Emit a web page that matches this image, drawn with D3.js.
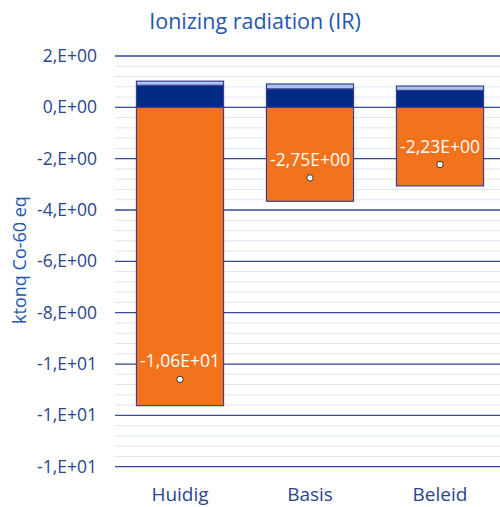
<!DOCTYPE html>
<html>
<head>
<meta charset="utf-8">
<script src="https://cdn.jsdelivr.net/npm/d3@7"></script>
<style>
  body { margin: 0; background: #fff; }
  svg { display: block; font-family: "Open Sans", sans-serif; }
</style>
</head>
<body>
<svg width="500" height="507"></svg>
<script>
const categories = ["Huidig", "Basis", "Beleid"];
const negative = [-11.62, -3.66, -3.06];
const posMain = [0.86, 0.72, 0.66];
const posTop = [0.16, 0.19, 0.17];
const net = [-10.6, -2.75, -2.23];
const netLabels = ["-1,06E+01", "-2,75E+00", "-2,23E+00"];
const tickValues = [2, 0, -2, -4, -6, -8, -10, -12, -14];
const tickLabels = ["2,E+00", "0,E+00", "-2,E+00", "-4,E+00", "-6,E+00", "-8,E+00", "-1,E+01", "-1,E+01", "-1,E+01"];

const svg = d3.select("svg");

const y = d3.scaleLinear().domain([-14, 2]).range([466.7, 56]);
const x = d3.scaleBand().domain(categories).range([115, 505])
  .paddingInner(0.33).paddingOuter(0.165);

// minor grid
svg.append("g")
  .selectAll("line")
  .data(d3.range(-14, 2.001, 0.4))
  .join("line")
  .attr("x1", 115).attr("x2", 500)
  .attr("y1", d => y(d)).attr("y2", d => y(d))
  .attr("stroke", "#dfe5f3")
  .attr("stroke-width", 1);

// major grid
svg.append("g")
  .selectAll("line")
  .data(tickValues)
  .join("line")
  .attr("x1", 115).attr("x2", 500)
  .attr("y1", d => y(d)).attr("y2", d => y(d))
  .attr("stroke", "#3b4c96")
  .attr("stroke-width", 1.3);

// y axis labels
const yAxis = d3.axisLeft(y)
  .tickValues(tickValues)
  .tickSize(0)
  .tickPadding(0)
  .tickFormat((d, i) => tickLabels[i]);

svg.append("g")
  .attr("transform", "translate(97,0)")
  .call(yAxis)
  .call(g => g.select(".domain").remove())
  .selectAll("text")
  .attr("fill", "#2b4490")
  .style("font-size", "17.5px")
  .style("font-family", "Open Sans, sans-serif");

// bars
const rows = categories.map((c, i) => ({ c, neg: negative[i], main: posMain[i], top: posTop[i], net: net[i], label: netLabels[i] }));

const bars = svg.append("g");

bars.selectAll(".neg")
  .data(rows)
  .join("rect")
  .attr("x", d => x(d.c))
  .attr("width", x.bandwidth())
  .attr("y", y(0))
  .attr("height", d => y(d.neg) - y(0))
  .attr("fill", "#f3721c")
  .attr("stroke", "#3a3f8a")
  .attr("stroke-width", 1.2);

bars.selectAll(".main")
  .data(rows)
  .join("rect")
  .attr("x", d => x(d.c))
  .attr("width", x.bandwidth())
  .attr("y", d => y(d.main))
  .attr("height", d => y(0) - y(d.main))
  .attr("fill", "#022a87")
  .attr("stroke", "#3a3f8a")
  .attr("stroke-width", 1.2);

bars.selectAll(".top")
  .data(rows)
  .join("rect")
  .attr("x", d => x(d.c))
  .attr("width", x.bandwidth())
  .attr("y", d => y(d.main + d.top))
  .attr("height", d => y(d.main) - y(d.main + d.top))
  .attr("fill", "#a9c4f2")
  .attr("stroke", "#3a3f8a")
  .attr("stroke-width", 1.2);

// net markers
bars.selectAll("circle")
  .data(rows)
  .join("circle")
  .attr("cx", d => x(d.c) + x.bandwidth() / 2)
  .attr("cy", d => y(d.net))
  .attr("r", 3.2)
  .attr("fill", "#fff")
  .attr("stroke", "#333")
  .attr("stroke-width", 1);

bars.selectAll(".lbl")
  .data(rows)
  .join("text")
  .attr("x", d => x(d.c) + x.bandwidth() / 2)
  .attr("y", d => y(d.net) - 12)
  .attr("text-anchor", "middle")
  .attr("fill", "#fff")
  .style("font-size", "17.5px")
  .text(d => d.label);

// category labels
svg.append("g")
  .selectAll("text")
  .data(categories)
  .join("text")
  .attr("x", d => x(d) + x.bandwidth() / 2)
  .attr("y", 501)
  .attr("text-anchor", "middle")
  .attr("fill", "#2b4490")
  .style("font-size", "19px")
  .text(d => d);

// title
svg.append("text")
  .attr("x", 255)
  .attr("y", 29)
  .attr("text-anchor", "middle")
  .attr("fill", "#2457b3")
  .style("font-size", "21.5px")
  .text("Ionizing radiation (IR)");

// y title
svg.append("text")
  .attr("transform", "translate(26,260) rotate(-90)")
  .attr("text-anchor", "middle")
  .attr("fill", "#2457b3")
  .style("font-size", "18px")
  .text("ktonq Co-60 eq");
</script>
</body>
</html>
